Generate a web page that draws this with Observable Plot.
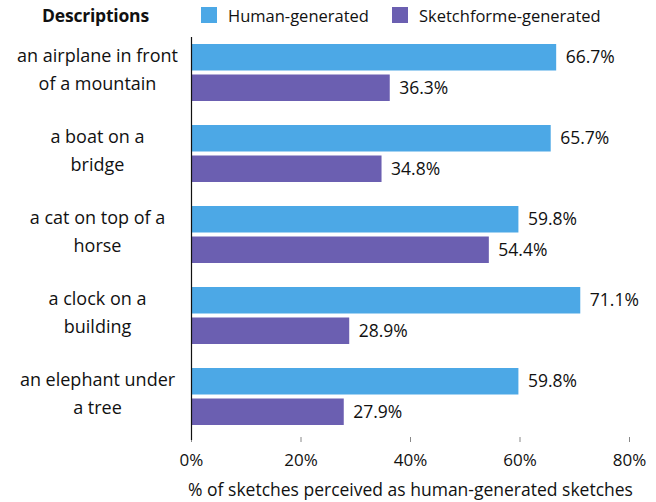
<!DOCTYPE html>
<html>
<head>
<meta charset="utf-8">
<script src="https://cdn.jsdelivr.net/npm/d3@7"></script>
<script src="https://cdn.jsdelivr.net/npm/@observablehq/plot@0.6"></script>
<style>
  body { margin: 0; background: #fff; }
  #wrap { position: relative; width: 656px; height: 502px; font-family: "Open Sans", sans-serif; color: #111; }
  #legend { position: absolute; top: 0; left: 0; width: 656px; height: 31px; font-size: 16.5px; }
  #legend .title { position: absolute; left: 42px; top: 3px; font-weight: bold; font-size: 17.5px; letter-spacing: -0.2px; }
  #legend .sw { position: absolute; top: 7px; width: 16px; height: 16px; }
  #legend .lab { position: absolute; top: 4px; }
</style>
</head>
<body>
<div id="wrap">
  <div id="legend"></div>
</div>
<script>
const descriptions = [
  "an airplane in front\nof a mountain",
  "a boat on a\nbridge",
  "a cat on top of a\nhorse",
  "a clock on a\nbuilding",
  "an elephant under\na tree"
];
const humanValues = [66.7, 65.7, 59.8, 71.1, 59.8];
const sketchValues = [36.3, 34.8, 54.4, 28.9, 27.9];
const seriesNames = ["Human-generated", "Sketchforme-generated"];
const seriesColors = ["#4ca8e6", "#6b5fb1"];
const xTicks = [0, 20, 40, 60, 80];
const legendTitle = "Descriptions";
const xLabel = "% of sketches perceived as human-generated sketches";

const human = descriptions.map((d, i) => ({desc: d, value: humanValues[i]}));
const sketch = descriptions.map((d, i) => ({desc: d, value: sketchValues[i]}));

// legend
const legend = document.getElementById("legend");
legend.innerHTML = `<span class="title">${legendTitle}</span>
<span class="sw" style="left:201px;background:${seriesColors[0]}"></span>
<span class="lab" style="left:228px">${seriesNames[0]}</span>
<span class="sw" style="left:392px;background:${seriesColors[1]}"></span>
<span class="lab" style="left:419px">${seriesNames[1]}</span>`;

const fmt = v => v.toFixed(1) + "%";

const chart = Plot.plot({
  width: 656,
  height: 502,
  marginTop: 31,
  marginBottom: 65,
  marginLeft: 191,
  marginRight: 27,
  style: {fontFamily: "'Open Sans', sans-serif", fontSize: "17.5px", color: "#111", background: "transparent"},
  x: {domain: [0, 80], axis: null},
  y: {domain: descriptions, paddingInner: 0.3, paddingOuter: 0.15, axis: null},
  marks: [
    Plot.barX(human, {x: "value", y: "desc", fill: seriesColors[0], insetBottom: 30.5}),
    Plot.barX(sketch, {x: "value", y: "desc", fill: seriesColors[1], insetTop: 30.5}),
    Plot.text(human, {x: "value", y: "desc", text: d => fmt(d.value), dx: 9, dy: -15.5, textAnchor: "start", fill: "#111"}),
    Plot.text(sketch, {x: "value", y: "desc", text: d => fmt(d.value), dx: 9, dy: 15.5, textAnchor: "start", fill: "#111"}),
    Plot.text(descriptions, {y: d => d, text: d => d, frameAnchor: "left", dx: -94, dy: -6, textAnchor: "middle", lineHeight: 1.55, fill: "#111", fontSize: 18}),
    Plot.axisX({ticks: xTicks, tickFormat: d => d + "%", tickSize: 5, stroke: "#888", tickPadding: 11, fill: "#111", label: null, fontSize: 17}),
    Plot.ruleX([0], {stroke: "#111", strokeWidth: 1.2, insetTop: 6, insetBottom: -3}),
    Plot.text([xLabel], {text: d => d, frameAnchor: "bottom", dy: 58, fill: "#111", fontSize: 17.5})
  ]
});
document.getElementById("wrap").appendChild(chart);
</script>
</body>
</html>
